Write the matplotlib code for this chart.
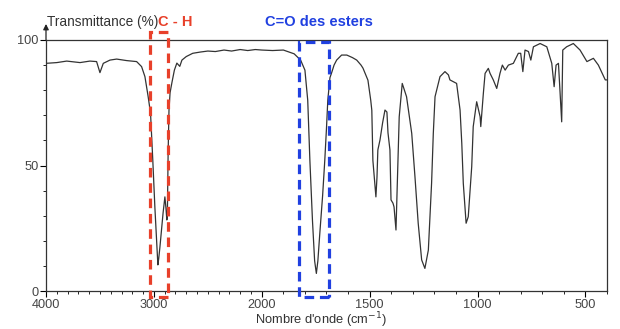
import numpy as np
import matplotlib
matplotlib.use('Agg')
import matplotlib.pyplot as plt
from matplotlib.patches import Rectangle

plt.rcParams['font.family'] = ['Liberation Sans', 'DejaVu Sans']

# Spectrum: wavenumber (cm-1) and transmittance (%).
WAVENUMBER = [
    4000, 3900, 3808, 3685, 3593, 3531, 3500, 3469, 3407, 3345, 3253, 3160,
    3114, 3083, 3053, 3031, 3010, 2991, 2975, 2963, 2955, 2944, 2930, 2915,
    2898, 2888, 2880, 2875, 2868, 2860, 2850, 2833, 2810, 2787, 2760, 2740,
    2700, 2640, 2570, 2500, 2430, 2350, 2280, 2200, 2130, 2060, 2000, 1950,
    1900, 1850, 1820, 1800, 1787, 1777, 1765, 1755, 1747, 1740, 1731, 1718,
    1708, 1700, 1694, 1684, 1676, 1665, 1653, 1630, 1606, 1580, 1560, 1540,
    1531, 1508, 1495, 1490, 1485, 1471, 1466, 1462, 1452, 1440, 1429, 1420,
    1415, 1406, 1401, 1392, 1387, 1378, 1372, 1363, 1349, 1329, 1305, 1290,
    1275, 1259, 1244, 1228, 1213, 1205, 1197, 1174, 1151, 1135, 1128, 1097,
    1081, 1073, 1066, 1053, 1043, 1027, 1020, 1004, 988, 985, 973, 965,
    950, 942, 927, 911, 896, 885, 872, 857, 834, 811, 800, 790,
    780, 764, 753, 741, 710, 679, 656, 645, 636, 625, 610, 605,
    587, 556, 525, 493, 463, 440, 408, 400,
]
TRANSMITTANCE = [
    90.7, 91.0, 91.6, 91.0, 91.6, 91.4, 87.0, 90.7, 92.0, 92.4, 91.8, 91.4,
    89.4, 85.4, 77.4, 70.8, 52.0, 33.5, 20.0, 10.4, 13.0, 17.5, 24.0, 31.0,
    37.5, 33.0, 28.3, 30.0, 55.0, 72.0, 79.0, 83.0, 88.0, 90.8, 89.5, 92.0,
    93.4, 94.7, 95.2, 95.6, 95.4, 96.0, 95.6, 96.2, 95.8, 96.2, 96.0, 95.8,
    96.0, 94.5, 92.0, 88.0, 76.0, 52.0, 28.0, 12.0, 7.0, 12.0, 23.0, 38.0,
    52.0, 65.0, 76.0, 85.0, 87.0, 90.0, 92.0, 94.0, 94.0, 93.0, 92.0, 90.0,
    88.8, 84.0, 76.0, 72.0, 52.0, 37.5, 45.4, 56.2, 60.2, 67.0, 72.1, 71.3,
    63.0, 56.2, 36.3, 35.0, 33.5, 24.3, 42.9, 69.4, 82.7, 77.4, 62.8, 45.5,
    27.0, 12.4, 9.0, 16.3, 42.9, 62.8, 77.4, 85.4, 87.4, 86.1, 84.1, 82.7,
    72.1, 58.8, 42.9, 27.0, 29.6, 49.5, 65.5, 75.4, 69.4, 65.5, 78.8, 86.7,
    88.7, 86.7, 84.1, 80.7, 86.7, 90.0, 88.0, 90.0, 90.7, 94.7, 94.7, 87.4,
    96.0, 95.4, 92.0, 97.3, 98.6, 97.3, 90.7, 81.4, 90.0, 90.7, 67.4, 96.0,
    97.3, 98.6, 96.0, 91.4, 92.7, 90.0, 84.1, 84.1,
]

X_TICKS = [4000, 3000, 2000, 1500, 1000, 500]
Y_TICKS = [0, 50, 100]

# Highlighted bands: (high wavenumber, low wavenumber, bottom, top).
CH_BOX = (3037, 2870, -2.4, 103.2)
CO_BOX = (1828, 1689, -2.4, 99.2)

SPLIT = 2000  # the scale is halved above 2000 cm-1


def forward(x):
    x = np.asarray(x, dtype=float)
    return np.where(x > SPLIT, SPLIT + (x - SPLIT) / 2, x)


def inverse(u):
    u = np.asarray(u, dtype=float)
    return np.where(u > SPLIT, SPLIT + (u - SPLIT) * 2, u)


def draw_box(ax, box, color):
    x_hi, x_lo, y0, y1 = box
    rect = Rectangle((x_lo, y0), x_hi - x_lo, y1 - y0, fill=False,
                     edgecolor=color, linewidth=2.3,
                     linestyle=(0, (3, 1.8)), clip_on=False, zorder=5)
    ax.add_patch(rect)


fig = plt.figure(figsize=(6.2, 3.29), dpi=100)
ax = fig.add_axes([46 / 620, 1 - 291 / 329, 561 / 620, 251 / 329])

ax.set_xscale('function', functions=(forward, inverse))
ax.plot(WAVENUMBER, TRANSMITTANCE, color='#333333', linewidth=0.9)

ax.set_xlim(4000, 400)
ax.set_ylim(0, 100)

ax.set_xticks(X_TICKS)
ax.set_xticklabels([str(t) for t in X_TICKS])
ax.set_xticks(np.arange(400, 4001, 100), minor=True)
ax.set_yticks(Y_TICKS)
ax.set_yticklabels([str(t) for t in Y_TICKS])
ax.set_yticks(np.arange(0, 101, 10), minor=True)

ax.tick_params(axis='both', which='major', direction='out', length=4,
               width=0.8, labelsize=9.2, labelcolor='#444444', pad=1.5)
ax.tick_params(axis='both', which='minor', direction='out', length=2.5,
               width=0.6)
for spine in ax.spines.values():
    spine.set_linewidth(0.9)
    spine.set_color('#333333')

# Arrow on the y axis.
ax.annotate('', xy=(0, 1.075), xytext=(0, 0.99), xycoords='axes fraction',
            arrowprops=dict(arrowstyle='-|>', color='#222222', lw=0.9,
                            mutation_scale=8))

fig.text(47 / 620, 1 - 22 / 329, 'Transmittance (%)', fontsize=9.8,
         color='#333333', va='center', ha='left')
fig.text(158 / 620, 1 - 22 / 329, 'C - H', fontsize=10.5, fontweight='bold',
         color='#e8402a', va='center', ha='left')
fig.text(265 / 620, 1 - 22 / 329, 'C=O des esters', fontsize=10.5,
         fontweight='bold', color='#2040e0', va='center', ha='left')
fig.text(321 / 620, 1 - 320 / 329, "Nombre d'onde (cm$^{-1}$)", fontsize=9.3,
         color='#333333', va='center', ha='center')

draw_box(ax, CH_BOX, '#e8402a')
draw_box(ax, CO_BOX, '#2040e0')

fig.savefig('out.png', dpi=100)
